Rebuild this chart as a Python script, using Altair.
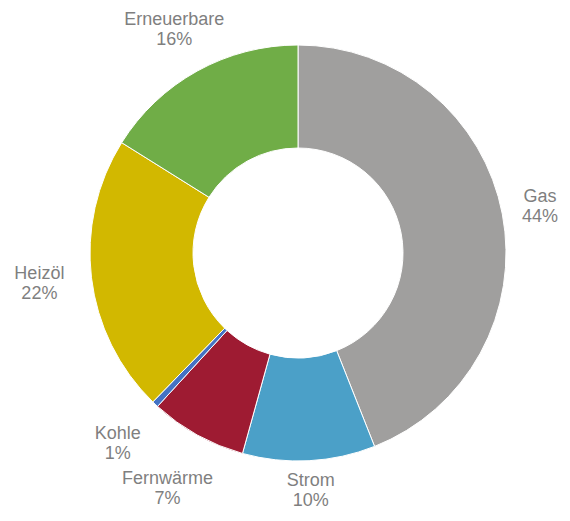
import math
import altair as alt
import pandas as pd

categories = ["Gas", "Strom", "Fernwärme", "Kohle", "Heizöl", "Erneuerbare"]
values = [44.0, 10.3, 7.5, 0.5, 21.6, 16.1]
pct_labels = ["44%", "10%", "7%", "1%", "22%", "16%"]
colors = ["#A09F9E", "#4BA0C8", "#9E1B32", "#4472C4", "#D2B800", "#70AD47"]

W, H = 554, 505
CX, CY = 290, 245
FONT_SIZE = 18
LINE_H = 20
OUTER = 208
INNER = 105
GAP = 26
EDGE = 4

# approximate Arial/Liberation Sans advance widths (per 1000 em)
CW = {"E": 667, "r": 333, "n": 556, "e": 556, "u": 556, "b": 556, "a": 556, "G": 778,
      "s": 500, "S": 667, "t": 278, "o": 556, "m": 833, "F": 611, "w": 722, "ä": 556,
      "K": 667, "h": 556, "l": 222, "H": 722, "i": 222, "z": 500, "ö": 556, "%": 889}


def text_w(s):
    return sum(CW.get(c, 556) for c in s) * FONT_SIZE / 1000


total = sum(values)
radii = []
cum = 0.0
for c, v, p in zip(categories, values, pct_labels):
    mid = (cum + v / 2) / total * 2 * math.pi
    cum += v
    sx, sy = math.sin(mid), -math.cos(mid)
    hw = max(text_w(c), text_w(p)) / 2
    hh = LINE_H / 2 + 0.42 * FONT_SIZE

    def box_dist(r):
        bx, by = r * sx, r * sy
        nx = max(abs(bx) - hw, 0)
        ny = max(abs(by) - hh, 0)
        return math.hypot(nx, ny)

    def inside(r):
        x, y = CX + r * sx, CY + r * sy
        return (x - hw >= EDGE and x + hw <= W - EDGE and y - hh >= EDGE and y + hh <= H - EDGE)

    lo, hi = 0.0, 600.0
    for _ in range(60):
        m = (lo + hi) / 2
        if box_dist(m) < OUTER + GAP and inside(m):
            lo = m
        else:
            hi = m
    radii.append(lo)

df = pd.DataFrame({
    "cat": categories,
    "value": values,
    "order": list(range(len(categories))),
    "label": [f"{c}\n{p}" for c, p in zip(categories, pct_labels)],
    "r": radii,
})

theta_scale = alt.Scale(domain=[0, total], range=[0, 2 * math.pi])

base = alt.Chart(df).transform_window(
    cum="sum(value)", sort=[alt.SortField("order")], frame=[None, 0]
).transform_calculate(
    start="datum.cum - datum.value",
    mid="datum.cum - datum.value / 2",
).encode(
    x=alt.value(CX),
    y=alt.value(CY),
)

arcs = base.mark_arc(outerRadius=OUTER, innerRadius=INNER, stroke="white", strokeWidth=1).encode(
    theta=alt.Theta("start:Q", scale=theta_scale),
    theta2=alt.Theta2("cum:Q"),
    color=alt.Color("cat:N", scale=alt.Scale(domain=categories, range=colors), legend=None),
)

labels = base.mark_text(
    fontSize=FONT_SIZE, font="Liberation Sans", color="#7F7F7F",
    lineBreak="\n", align="center", baseline="middle", lineHeight=LINE_H,
    dy=-LINE_H / 2,
).encode(
    theta=alt.Theta("mid:Q", scale=theta_scale),
    text="label:N",
    radius=alt.Radius("r:Q", scale=None),
)

chart = (arcs + labels).properties(
    width=W, height=H, autosize="none", padding=0
).configure_view(stroke=None)

chart.save("out.html", embed_options={"renderer": "svg", "actions": False})
